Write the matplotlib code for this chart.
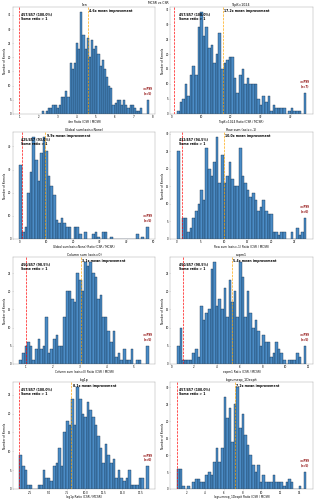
import numpy as np
import matplotlib
matplotlib.use("Agg")
import matplotlib.pyplot as plt

# ---------------- data ----------------
titles = ["ilen", "TopK=1024", "Global sum(axis=None)", "Row sum (axis=-1)",
          "Column sum (axis=0)", "expm1", "log1p", "logsumexp_1Dexpit"]

xlabels = [t + " Ratio (CSR / MCSR)" for t in titles]

# histogram ranges (ratio values) and bin counts
ranges = [(2.17, 7.81), (1.9, 45.3), (0.02, 48.3), (0.0, 27.5),
          (0.77, 5.56), (0.5, 11.85), (1.05, 18.6), (1.0, 14.8)]

counts = [
    [1, 0, 1, 2, 2, 3, 3, 2, 3, 6, 6, 8, 6, 18, 16, 18, 25, 23, 36, 28,
     23, 27, 20, 26, 23, 24, 21, 17, 19, 16, 13, 10, 9, 3, 4, 5, 5, 3, 5, 3,
     2, 3, 3, 2, 1, 1, 2, 0, 0, 5],
    [1, 4, 5, 10, 6, 13, 16, 13, 29, 34, 26, 29, 22, 23, 17, 20, 27, 15, 17, 18,
     19, 19, 12, 7, 13, 15, 10, 12, 10, 10, 10, 5, 3, 6, 4, 6, 1, 3, 2, 2,
     2, 2, 0, 1, 2, 1, 1, 1, 0, 7],
    [32, 3, 5, 20, 29, 44, 34, 25, 37, 44, 38, 27, 23, 19, 8, 7, 9, 7, 5, 5,
     0, 5, 5, 2, 0, 3, 0, 0, 2, 3, 1, 0, 3, 3, 0, 1, 0, 0, 0, 0,
     0, 0, 0, 0, 0, 2, 0, 1, 0, 5],
    [25, 0, 6, 6, 2, 3, 6, 8, 10, 14, 11, 26, 20, 18, 22, 29, 16, 24, 16, 18,
     22, 17, 15, 15, 26, 18, 16, 14, 12, 13, 11, 8, 9, 11, 8, 7, 7, 2, 2, 1,
     2, 2, 0, 0, 2, 0, 3, 1, 2, 6],
    [1, 3, 5, 6, 5, 1, 4, 7, 4, 5, 13, 3, 4, 7, 8, 5, 5, 13, 20, 20,
     18, 17, 25, 23, 20, 28, 27, 28, 25, 24, 18, 19, 13, 13, 9, 6, 9, 2, 3, 1,
     4, 1, 1, 4, 0, 1, 1, 0, 0, 5],
    [5, 10, 1, 1, 1, 1, 3, 4, 2, 16, 12, 14, 15, 26, 28, 16, 18, 15, 21, 13,
     23, 17, 20, 13, 28, 24, 13, 20, 14, 10, 12, 9, 5, 8, 6, 6, 2, 3, 6, 4,
     3, 1, 0, 1, 1, 1, 3, 2, 0, 5],
    [9, 6, 5, 1, 1, 0, 0, 1, 1, 5, 3, 3, 2, 6, 7, 11, 6, 15, 18, 17,
     24, 17, 27, 24, 20, 19, 23, 21, 19, 17, 14, 11, 7, 12, 9, 7, 8, 3, 5, 3,
     2, 3, 5, 1, 1, 1, 3, 3, 0, 6],
    [6, 6, 1, 0, 1, 0, 2, 3, 3, 2, 2, 4, 5, 4, 8, 12, 8, 12, 27, 21,
     24, 14, 25, 30, 18, 22, 16, 13, 10, 7, 5, 7, 2, 4, 2, 2, 2, 4, 2, 2,
     2, 1, 2, 3, 2, 0, 0, 1, 0, 5],
]

means = [4.6, 17.2, 9.7, 10.0, 3.05, 5.3, 8.1, 7.2]
mean_labels = ["4.6x", "17.2x", "9.9x", "10.0x", "3.1x", "5.4x", "8.1x", "7.2x"]
above = [457, 457, 425, 432, 450, 450, 457, 457]
total = 457
overflow_labels = [">=P99"] * 8

# ---------------- plot ----------------
fig, axes = plt.subplots(4, 2, figsize=(316 / 15.8, 500 / 15.8), dpi=15.8)
fig.subplots_adjust(left=0.041, right=0.99, top=0.986, bottom=0.022,
                    wspace=0.106, hspace=0.17)
fig.suptitle("MCSR vs CSR", fontsize=14, y=0.999)

for i, ax in enumerate(axes.flat):
    lo, hi = ranges[i]
    c = np.array(counts[i], dtype=float)
    edges = np.linspace(lo, hi, len(c) + 1)
    centers = (edges[:-1] + edges[1:]) / 2
    ax.hist(centers, bins=edges, weights=c, color="#4b8cc6",
            edgecolor="#08213a", linewidth=1.6, alpha=1.0)
    ax.axvline(1.0, color="red", linestyle="--", linewidth=3)
    ax.axvline(means[i], color="orange", linestyle="--", linewidth=3)
    ax.set_title(titles[i], fontsize=15)
    ax.set_xlabel(xlabels[i], fontsize=13)
    ax.set_ylabel("Number of Kernels", fontsize=13)
    ax.tick_params(labelsize=12)
    pct = 100.0 * above[i] / total
    ax.text(0.06, 0.95, f"{above[i]}/{total} ({pct:.1f}%)\nSome ratio > 1",
            transform=ax.transAxes, ha="left", va="top", fontsize=14,
            fontweight="bold")
    ymax = ax.get_ylim()[1]
    ax.text(means[i] + (hi - lo) * 0.01, ymax * 0.985,
            f"{mean_labels[i]} mean improvement", ha="left", va="top",
            fontsize=14, fontweight="bold")
    ax.text(centers[-1], c[-1] + ymax * 0.04,
            f"{overflow_labels[i]}\n(n={int(c[-1])})", ha="center", va="bottom",
            fontsize=12, color="darkred", fontweight="bold")
    for s in ax.spines.values():
        s.set_color("#888888")
        s.set_linewidth(1.5)

fig.savefig("out.png", dpi=15.8)
